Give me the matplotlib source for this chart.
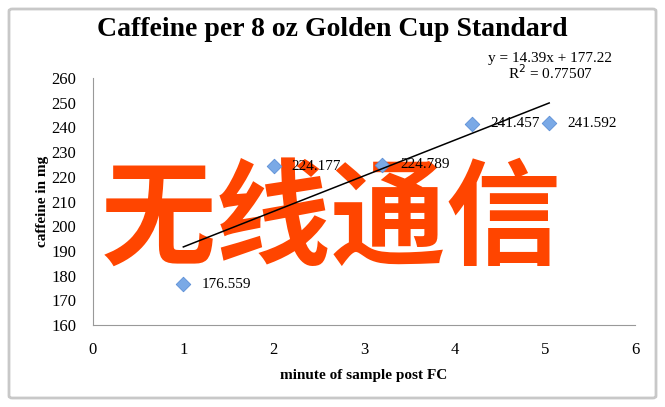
import matplotlib.pyplot as plt
from matplotlib.patches import FancyBboxPatch

# Data
minutes = [1.0, 2.0, 3.2, 4.2, 5.05]
caffeine = [176.559, 224.177, 224.789, 241.457, 241.592]
point_labels = ["176.559", "224.177", "224.789", "241.457", "241.592"]
slope, intercept = 14.39, 177.22
r_squared = "0.77507"
fit_range = [1.0, 5.05]

serif = "Liberation Serif"

fig = plt.figure(figsize=(6.65, 4.07), dpi=100)
ax = fig.add_axes([93 / 665, 1 - 325 / 407, (635 - 93) / 665, (325 - 78) / 407])

# outer chart border
fig.patches.append(FancyBboxPatch((9 / 665, 9 / 407), 647 / 665, 389 / 407,
                                  boxstyle="round,pad=0,rounding_size=0.005",
                                  transform=fig.transFigure, fill=False,
                                  edgecolor="#c8c8c8", linewidth=2))

ax.scatter(minutes, caffeine, marker="D", s=55, color="#7aa9e6",
           edgecolor="#5b8fd6", linewidth=0.6, zorder=3)
for x, y, lab in zip(minutes, caffeine, point_labels):
    ax.annotate(lab, (x, y), xytext=(13, 0), textcoords="offset points",
                va="center", ha="left", fontsize=11, family=serif, zorder=2)

# overlay text (sits above labels, below the trendline)
fig.text(331 / 665, 1 - 223 / 407, "无线通信", color="#ff4500", fontsize=83,
         fontweight="bold", family=["Noto Sans CJK SC", "DejaVu Sans"],
         ha="center", va="center", zorder=4)

fx = fit_range
fy = [slope * v + intercept for v in fx]
ax.plot(fx, fy, color="black", linewidth=1.1, zorder=5)
ax.set_zorder(5)
ax.patch.set_alpha(0)

ax.text(550 / 665, 1 - 67 / 407, f"y = {slope}x + {intercept}\nR$^2$ = {r_squared}",
        transform=fig.transFigure, ha="center", va="center", fontsize=11,
        family=serif, linespacing=0.95)

ax.set_xlim(0, 6)
ax.set_ylim(160, 260)
ax.set_xticks(range(0, 7))
ax.set_yticks(range(160, 261, 10))
ax.tick_params(length=0, labelsize=12, pad=12)
for t in ax.get_xticklabels() + ax.get_yticklabels():
    t.set_family(serif)
for s in ["top", "right"]:
    ax.spines[s].set_visible(False)
for s in ["left", "bottom"]:
    ax.spines[s].set_color("#999999")
    ax.spines[s].set_linewidth(0.8)

ax.set_xlabel("minute of sample post FC", fontsize=11, fontweight="bold",
              family=serif, labelpad=8)
ax.set_ylabel("caffeine in mg", fontsize=11, fontweight="bold",
              family=serif, labelpad=2)
fig.text(332 / 665, 1 - 29 / 407, "Caffeine per 8 oz Golden Cup Standard",
         ha="center", va="center", fontsize=20, fontweight="bold", family=serif)

fig.savefig("out.png", dpi=100)
